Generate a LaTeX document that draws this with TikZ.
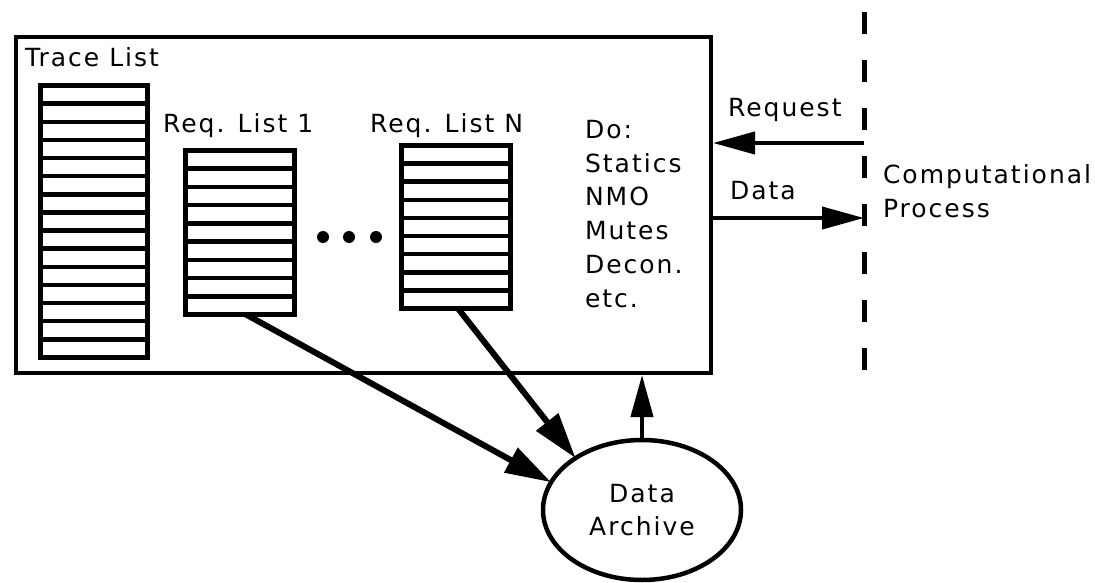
\documentclass[tikz,border=0pt]{standalone}
\usepackage{fontspec}
\setmainfont{DejaVu Sans}[LetterSpace=8]
\usetikzlibrary{arrows.meta,shapes.geometric,calc}

\begin{document}
\begin{tikzpicture}[x=1pt,y=-1pt,
  txt/.style={font=\fontsize{25}{33.8}\selectfont, inner sep=0pt, outer sep=0pt},
  listbox/.style={draw, line width=5pt, inner sep=0pt, outer sep=0pt,
    anchor=north west, minimum width=109pt},
  sepline/.style={line width=4.5pt},
  flow/.style={line width=4pt, -{Triangle[length=42pt,width=22pt]}},
  bigflow/.style={line width=6pt, -{Triangle[length=46pt,width=27pt]}},
  divider/.style={line width=5pt, dash pattern=on 22pt off 26pt},
  dotmark/.style={circle, fill, inner sep=0pt, minimum size=12pt}
]
\useasboundingbox (0,0) rectangle (1095,583);

% processing box
\node[draw, line width=4pt, inner sep=0pt, anchor=north west,
      minimum width=695pt, minimum height=336pt] (proc) at (14,35) {};

% trace list (15 slots)
\node[txt, anchor=base west] (tltitle) at (25,67) {Trace List};
\node[listbox, minimum width=107pt, minimum height=272pt] (tl) at (40.5,85.5) {};
\foreach \i in {1,...,14}
  \draw[sepline] ($(tl.north west)!\i/15!(tl.south west)$) -- ($(tl.north east)!\i/15!(tl.south east)$);

% request list 1 (9 slots)
\node[txt, anchor=base west] (rl1title) at (163,132) {Req. List 1};
\node[listbox, minimum height=164pt] (rl1) at (185.5,150.5) {};
\foreach \i in {1,...,8}
  \draw[sepline] ($(rl1.north west)!\i/9!(rl1.south west)$) -- ($(rl1.north east)!\i/9!(rl1.south east)$);

% ellipsis between the lists
\node[dotmark] (d1) at (323,237) {};
\node[dotmark] (d2) at (349,237) {};
\node[dotmark] (d3) at (376,237) {};

% request list N (9 slots)
\node[txt, anchor=base west] (rlntitle) at (370,132) {Req. List N};
\node[listbox, minimum height=163pt] (rln) at (401.5,145.5) {};
\foreach \i in {1,...,8}
  \draw[sepline] ($(rln.north west)!\i/9!(rln.south west)$) -- ($(rln.north east)!\i/9!(rln.south east)$);

% operations
\node[txt, anchor=north west, align=left] (ops) at (585,120)
  {Do:\\Statics\\NMO\\Mutes\\Decon.\\etc.};

% process boundary
\coordinate (dtop) at (864,12);
\coordinate (dbot) at (864,370);
\draw[divider] (dtop) -- (dbot);
\node[txt, anchor=north west, align=left] (cp) at (883,165)
  {Computational\\Process};

% request / data exchange
\coordinate (reqsrc) at (864,143);
\coordinate (datadst) at (864,218);
\node[txt, anchor=base west] (reqlbl) at (728,117) {Request};
\node[txt, anchor=base west] (datalbl) at (730,199) {Data};
\draw[flow] (reqsrc) -- (reqsrc -| proc.east);
\draw[flow] (datadst -| proc.east) -- (datadst);

% archive
\node[draw, ellipse, line width=4.5pt, minimum width=198pt, minimum height=140pt,
      inner sep=0pt, txt, align=center] (arch) at (642,510) {Data\\Archive};

\draw[bigflow] ([xshift=6pt]rl1.south) -- (arch.163.6);
\draw[bigflow] ([xshift=2pt]rln.south) -- (arch.142.6);
\draw[flow] (arch.north) -- (arch.north |- proc.south);
\end{tikzpicture}
\end{document}
